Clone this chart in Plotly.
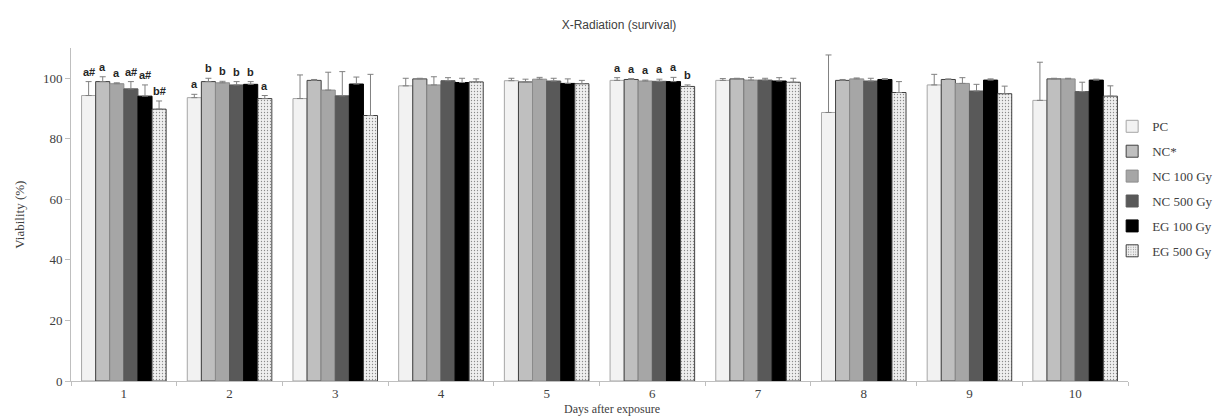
import plotly.graph_objects as go

days = ["1", "2", "3", "4", "5", "6", "7", "8", "9", "10"]
series_names = ["PC", "NC*", "NC 100 Gy", "NC 500 Gy", "EG 100 Gy", "EG 500 Gy"]

pc = [94.3, 93.6, 93.3, 97.5, 99.2, 99.3, 99.3, 88.7, 97.8, 92.7]
pc_err = [4.6, 1.1, 7.8, 2.5, 0.8, 0.9, 0.6, 19.0, 3.5, 12.6]
nc = [98.9, 98.9, 99.3, 99.8, 98.8, 99.6, 99.8, 99.3, 99.6, 99.8]
nc_err = [1.6, 1.1, 0.3, 0.2, 0.9, 0.3, 0.2, 0.3, 0.2, 0.2]
nc100 = [98.2, 98.5, 96.1, 97.8, 99.7, 99.1, 99.4, 99.8, 98.3, 99.8]
nc100_err = [0.3, 0.5, 5.9, 2.7, 0.6, 0.3, 0.9, 0.3, 1.9, 0.2]
nc500 = [96.5, 97.8, 94.2, 99.2, 99.1, 99.0, 99.4, 99.1, 95.8, 95.6]
nc500_err = [2.4, 1.1, 8.0, 1.0, 0.9, 0.7, 0.6, 0.9, 2.2, 3.1]
eg100 = [94.1, 98.0, 98.1, 98.6, 98.3, 98.9, 99.1, 99.6, 99.4, 99.4]
eg100_err = [3.7, 0.9, 2.3, 1.4, 1.5, 1.4, 1.1, 0.3, 0.4, 0.3]
eg500 = [89.8, 93.3, 87.7, 98.8, 98.2, 97.3, 98.7, 95.3, 94.9, 94.1]
eg500_err = [2.7, 1.0, 13.6, 1.0, 1.1, 0.5, 1.3, 3.6, 2.5, 3.4]

# significance letters for days 1, 2 and 6 (one per series)
letter_day1 = ["a#", "a", "a", "a#", "a#", "b#"]
letter_day2 = ["a", "b", "b", "b", "b", "a"]
letter_day6 = ["a", "a", "a", "a", "a", "b"]

values = [pc, nc, nc100, nc500, eg100, eg500]
errors = [pc_err, nc_err, nc100_err, nc500_err, eg100_err, eg500_err]

fills = ["#f2f2f2", "#bfbfbf", "#a6a6a6", "#595959", "#000000", "#eeeeee"]
lines = ["#a6a6a6", "#404040", "#8c8c8c", "#595959", "#000000", "#404040"]

fig = go.Figure()
for i, name in enumerate(series_names):
    marker = dict(color=fills[i], line=dict(color=lines[i], width=1))
    if i == 5:
        marker["pattern"] = dict(shape=".", fgcolor="#8a8a8a", bgcolor="#efefef",
                                 size=3, solidity=0.15, fillmode="replace")
    fig.add_trace(go.Bar(
        x=days, y=values[i], name=name, marker=marker,
        legendgroup=name,
        error_y=dict(type="data", symmetric=False, array=errors[i],
                     arrayminus=[0] * len(days), color="#808080",
                     thickness=1, width=3),
    ))

bar_w = 0.8 / 6
annotations = []
for day_idx, letters in [(0, letter_day1), (1, letter_day2), (5, letter_day6)]:
    for s, txt in enumerate(letters):
        top = values[s][day_idx] + errors[s][day_idx]
        annotations.append(dict(
            x=day_idx + (s - 2.5) * bar_w, y=top, xref="x", yref="y",
            text="<b>" + txt + "</b>", showarrow=False, yanchor="bottom",
            yshift=2, font=dict(family="Liberation Sans", size=11, color="#262626"),
        ))

# axis titles
annotations.append(dict(
    x=(607 - 63) / 1063, y=(373 - 401) / 333, xref="paper", yref="paper",
    text="Days after exposure", showarrow=False, xanchor="center", yanchor="middle",
    font=dict(family="Liberation Serif", size=12, color="#404040"),
))
annotations.append(dict(
    x=(11 - 63) / 1063, y=0.5, xref="paper", yref="paper",
    text="Viability (%)", showarrow=False, textangle=-90,
    xanchor="center", yanchor="middle",
    font=dict(family="Liberation Serif", size=13, color="#404040"),
))

fig.update_layout(
    width=1222, height=416,
    margin=dict(l=63, r=96, t=40, b=43),
    paper_bgcolor="white", plot_bgcolor="white",
    barmode="group", bargap=0.2, bargroupgap=0,
    title=dict(text="X-Radiation (survival)", x=0.5, xref="container",
               y=1 - 17 / 416, yref="container", yanchor="middle",
               font=dict(family="Liberation Sans", size=12, color="#404040")),
    legend=dict(x=0.985, xanchor="left", y=0.577, yanchor="middle",
                font=dict(family="Liberation Serif", size=13, color="#404040"),
                tracegroupgap=5, traceorder="grouped", bgcolor="rgba(0,0,0,0)"),
    annotations=annotations,
    showlegend=True,
)
fig.update_xaxes(type="category", showline=True, linecolor="#bfbfbf", linewidth=1,
                 ticks="outside", tickson="boundaries", ticklen=4, tickcolor="#bfbfbf",
                 showgrid=False, zeroline=False,
                 tickfont=dict(family="Liberation Serif", size=13, color="#404040"))
fig.update_yaxes(range=[0, 110], dtick=20, showline=True, linecolor="#bfbfbf",
                 linewidth=1, ticks="outside", ticklen=5, tickcolor="#bfbfbf",
                 showgrid=False, zeroline=False,
                 tickfont=dict(family="Liberation Serif", size=13, color="#404040"))

fig.write_html("out.html")
